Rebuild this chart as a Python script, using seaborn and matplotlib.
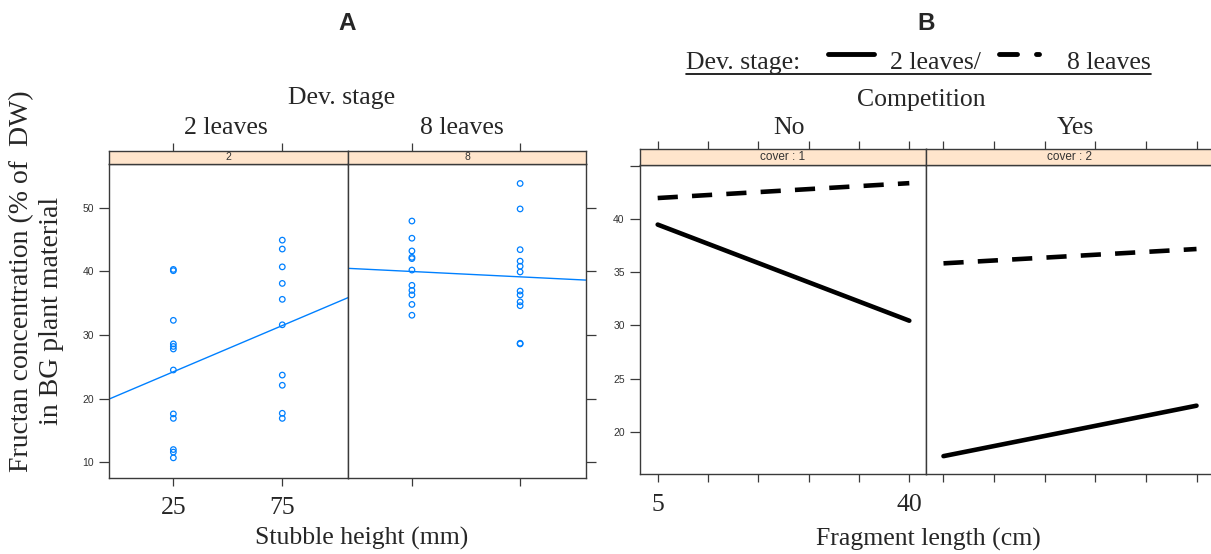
import matplotlib
matplotlib.use("Agg")
import matplotlib.pyplot as plt
from matplotlib.lines import Line2D
import numpy as np
import pandas as pd
import seaborn as sns

# ---------------- data ----------------
# Panel A: fructan (% DW) by stubble height (mm) and development stage
stubble_heights = [25, 75]
fructan_2lv_h25 = [40.3, 40.1, 32.3, 28.6, 28.2, 27.8, 24.5, 17.6, 16.9, 12.0, 11.6, 10.7]
fructan_2lv_h75 = [44.9, 43.5, 40.7, 38.1, 35.6, 31.6, 23.7, 22.1, 17.7, 16.9]
fructan_8lv_h25 = [47.9, 45.2, 43.2, 42.2, 42.0, 40.2, 37.8, 37.0, 36.3, 34.8, 33.1]
fructan_8lv_h75 = [53.8, 49.8, 43.4, 41.6, 40.8, 39.9, 36.9, 36.3, 35.2, 34.6, 28.7, 28.6]
stage_labels = ["2 leaves", "8 leaves"]
strip_a = ["2", "8"]
ticks_a_y = [10, 20, 30, 40, 50]

# Panel B: fitted fructan vs fragment length (cm), by competition and stage
fragment_length = [5, 40]
no_comp_2lv = [39.5, 30.45]
no_comp_8lv = [42.0, 43.4]
yes_comp_2lv = [17.7, 22.45]
yes_comp_8lv = [35.85, 37.2]
competition_labels = ["No", "Yes"]
strip_b = ["cover : 1", "cover : 2"]
ticks_b_x = [5, 12, 19, 26, 33, 40]
ticks_b_x_labels = ["5", "", "", "", "", "40"]
ticks_b_y = [20, 25, 30, 35, 40, 45]
ticks_b_y_labels = ["20", "25", "30", "35", "40", ""]

# ---------------- frames ----------------
df_a = pd.DataFrame({
    "height": [25] * len(fructan_2lv_h25) + [75] * len(fructan_2lv_h75)
              + [25] * len(fructan_8lv_h25) + [75] * len(fructan_8lv_h75),
    "fructan": fructan_2lv_h25 + fructan_2lv_h75 + fructan_8lv_h25 + fructan_8lv_h75,
    "stage": ["2"] * (len(fructan_2lv_h25) + len(fructan_2lv_h75))
             + ["8"] * (len(fructan_8lv_h25) + len(fructan_8lv_h75)),
})

rows = []
for comp, s2, s8 in [("No", no_comp_2lv, no_comp_8lv), ("Yes", yes_comp_2lv, yes_comp_8lv)]:
    for x, y in zip(fragment_length, s2):
        rows.append((comp, "2 leaves", x, y))
    for x, y in zip(fragment_length, s8):
        rows.append((comp, "8 leaves", x, y))
df_b = pd.DataFrame(rows, columns=["competition", "stage", "fragment", "fructan"])

# ---------------- style ----------------
sns.set_theme(style="white")
plt.rcParams["font.family"] = ["Liberation Serif", "DejaVu Serif"]
SANS = "Liberation Sans"
EDGE = "#3a3a3a"
BLUE = "#0080ff"
STRIP = "#ffe5cc"
SERIF_SIZE = 18.5

W, H = 1211, 554
fig = plt.figure(figsize=(W / 100, H / 100), dpi=100)


def box(x0, y0, x1, y1):
    return [x0 / W, 1 - y1 / H, (x1 - x0) / W, (y1 - y0) / H]


def fx(x):
    return x / W


def fy(y):
    return 1 - y / H


def frame(ax):
    ax.set_facecolor("white")
    for s in ax.spines.values():
        s.set_visible(True)
        s.set_color(EDGE)
        s.set_linewidth(1.0)
    ax.tick_params(which="both", direction="out", length=6, width=0.9, color=EDGE,
                   bottom=False, top=False, left=False, right=False,
                   labelbottom=False, labeltop=False, labelleft=False, labelright=False)
    ax.set_xlabel("")
    ax.set_ylabel("")


def strip(box_px, xlim, xticks, label, size):
    sax = fig.add_axes(box(*box_px))
    frame(sax)
    sax.set_facecolor(STRIP)
    sax.set_xlim(*xlim)
    sax.set_ylim(0, 1)
    sax.set_yticks([])
    sax.set_xticks(xticks)
    sax.tick_params(axis="x", top=True, length=6)
    sax.text(0.5, 0.5, label, transform=sax.transAxes, ha="center", va="center",
             fontsize=size, family=SANS, color="#333333")
    return sax


# ---------------- Panel A ----------------
xlim_a = (-4.4, 105.3)
ylim_a = (7.58, 56.86)
a_boxes = [(109.3, 164, 348.3, 477.7), (348.3, 164, 585.7, 477.7)]
for i, st in enumerate(["2", "8"]):
    ax = fig.add_axes(box(*a_boxes[i]))
    sub = df_a[df_a["stage"] == st]
    ax.set_xlim(*xlim_a)
    ax.set_ylim(*ylim_a)
    sns.regplot(data=sub, x="height", y="fructan", ax=ax, scatter=False, ci=None,
                truncate=False, line_kws=dict(color=BLUE, lw=1.0))
    sns.scatterplot(data=sub, x="height", y="fructan", ax=ax, s=16, legend=False)
    pts = ax.collections[-1]
    pts.set_facecolor("none")
    pts.set_edgecolor(BLUE)
    pts.set_linewidth(0.9)
    ax.set_xlim(*xlim_a)
    ax.set_ylim(*ylim_a)
    frame(ax)
    ax.set_xticks(stubble_heights)
    ax.set_yticks(ticks_a_y)
    ax.tick_params(axis="x", bottom=True, length=6)
    if i == 0:
        ax.tick_params(axis="x", labelbottom=True, labelsize=SERIF_SIZE, pad=8)
        ax.tick_params(axis="y", left=True, labelleft=True, labelsize=7.5,
                       labelcolor="#333333", labelfontfamily=SANS, pad=4, length=7)
    else:
        ax.tick_params(axis="y", right=True, length=7)
    strip((a_boxes[i][0], 151, a_boxes[i][2], 164), xlim_a, stubble_heights, strip_a[i], 7.5)

# ---------------- Panel B ----------------
xlim_b = (2.54, 42.28)
ylim_b = (15.99, 45.11)
b_boxes = [(640, 165, 925.7, 474.3), (925.7, 165, 1213, 474.3)]
for i, comp in enumerate(competition_labels):
    ax = fig.add_axes(box(*b_boxes[i]))
    sub = df_b[df_b["competition"] == comp]
    sns.lineplot(data=sub, x="fragment", y="fructan", style="stage", ax=ax,
                 dashes={"2 leaves": "", "8 leaves": (4.4, 3.1)}, color="black",
                 lw=3.3, estimator=None, legend=False)
    ax.set_xlim(*xlim_b)
    ax.set_ylim(*ylim_b)
    frame(ax)
    ax.set_xticks(ticks_b_x)
    ax.set_yticks(ticks_b_y)
    ax.tick_params(axis="x", bottom=True, length=6)
    if i == 0:
        ax.set_xticklabels(ticks_b_x_labels)
        ax.set_yticklabels(ticks_b_y_labels)
        ax.tick_params(axis="x", labelbottom=True, labelsize=SERIF_SIZE, pad=8)
        ax.tick_params(axis="y", left=True, labelleft=True, labelsize=7.5,
                       labelcolor="#333333", labelfontfamily=SANS, pad=4, length=7)
    strip((b_boxes[i][0], 149.3, b_boxes[i][2], 165), xlim_b, ticks_b_x, strip_b[i], 8.5)

# ---------------- titles and labels ----------------
for lab, x in [("A", 347), ("B", 926)]:
    fig.text(fx(x), fy(23), lab, ha="center", va="center", fontsize=17.5,
             fontweight="bold", family=["Liberation Sans Narrow", SANS, "DejaVu Sans"])

fig.text(fx(342), fy(98), "Dev. stage", ha="center", va="center", fontsize=SERIF_SIZE)
fig.text(fx(226), fy(128), stage_labels[0], ha="center", va="center", fontsize=SERIF_SIZE)
fig.text(fx(462), fy(128), stage_labels[1], ha="center", va="center", fontsize=SERIF_SIZE)
fig.text(fx(921), fy(100), "Competition", ha="center", va="center", fontsize=SERIF_SIZE)
fig.text(fx(789), fy(128), competition_labels[0], ha="center", va="center", fontsize=SERIF_SIZE)
fig.text(fx(1075), fy(128), competition_labels[1], ha="center", va="center", fontsize=SERIF_SIZE)

fig.text(fx(22), fy(281), "Fructan concentration (% of  DW)", rotation=90,
         ha="center", va="center", fontsize=20)
fig.text(fx(52), fy(311), "in BG plant material", rotation=90,
         ha="center", va="center", fontsize=20)

fig.text(fx(362), fy(538), "Stubble height (mm)", ha="center", va="center", fontsize=SERIF_SIZE)
fig.text(fx(928), fy(539), "Fragment length (cm)", ha="center", va="center", fontsize=SERIF_SIZE)

# legend header for panel B
fig.text(fx(686), fy(69), "Dev. stage:", ha="left", va="baseline", fontsize=SERIF_SIZE)
fig.text(fx(890), fy(69), stage_labels[0] + "/", ha="left", va="baseline", fontsize=SERIF_SIZE)
fig.text(fx(1151), fy(69), stage_labels[1], ha="right", va="baseline", fontsize=SERIF_SIZE)
fig.add_artist(Line2D([fx(686), fx(1151)], [fy(73.5), fy(73.5)], color="black", lw=1.2))
fig.add_artist(Line2D([fx(828), fx(874)], [fy(54), fy(54)], color="black", lw=3.5,
                      solid_capstyle="round"))
fig.add_artist(Line2D([fx(999), fx(1017)], [fy(54), fy(54)], color="black", lw=3.5,
                      solid_capstyle="round"))
fig.add_artist(Line2D([fx(1036), fx(1039)], [fy(53.5), fy(53.5)], color="black", lw=3.5,
                      solid_capstyle="round"))

fig.savefig("out.png", dpi=100, facecolor="white")
